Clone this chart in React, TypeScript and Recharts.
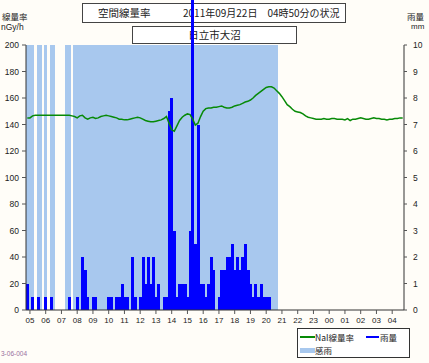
import { ComposedChart, Bar, Line, XAxis, YAxis } from "recharts";

// 10-minute slots, 24 h ending at 04:50 on 2011-09-22
const START_MIN = 4 * 60 + 50;
const SLOT_MIN = 10;

const HOUR_TICKS = [
  "05", "06", "07", "08", "09", "10", "11", "12", "13", "14", "15", "16",
  "17", "18", "19", "20", "21", "22", "23", "00", "01", "02", "03", "04",
];

// NaI dose rate, nGy/h
const NAI_RATE = [
  145, 145, 146.5, 147, 147, 147, 147, 147, 147, 147, 147, 147,
  147, 147, 147, 147, 147, 146.5, 146, 145, 146.5, 147, 145, 144,
  145, 145.5, 144.5, 145, 146, 146.5, 147, 146.5, 146, 145.5, 145, 144,
  144, 143.5, 143.5, 144, 144.5, 145, 145.5, 145, 144, 143, 142.5, 142,
  142, 142.5, 143, 143.5, 144.5, 146, 141, 136, 135, 139, 143, 145.5,
  147, 148, 147.5, 144, 139.5, 141, 146, 150, 152, 152.5, 152.5, 153,
  153, 153.5, 154, 153, 152.5, 152.5, 153, 154, 154.5, 155, 156, 157,
  157.5, 158.5, 160, 162, 163.5, 165, 166.5, 168, 168.5, 168.5, 167.5, 165.5,
  163.5, 161, 158, 155, 153.5, 151.5, 150, 149.5, 149, 148, 146.5, 145.5,
  145, 144.5, 144, 144, 144, 144.5, 144, 144, 144.5, 144.5, 144, 144,
  144, 143.5, 144.5, 143, 144, 144, 144.5, 145, 144.5, 144, 144, 144.5,
  145, 144.5, 144.5, 144, 144, 143.5, 144, 144, 144.5, 144.5, 145, 145,
];

// rainfall per 10 min, mm
const RAIN_MM = [
  1.0, 0, 0.5, 0, 0.5, 0, 0, 0.5, 0, 0.5, 0, 0,
  0, 0, 0, 0, 0.5, 0, 0, 0.5, 0, 2.0, 1.5, 0.5,
  0, 0.5, 0.5, 0, 0, 0, 0, 0.5, 0.5, 0, 0.5, 0.5,
  1.0, 0.5, 0.5, 0, 2.0, 0.5, 0, 0.5, 2.0, 1.0, 2.0, 1.0,
  2.0, 0.5, 1.0, 0, 0.5, 0.5, 7.5, 8.0, 3.0, 0.5, 1.0, 1.0,
  1.0, 0.5, 3.0, 13.0, 2.5, 7.0, 1.0, 1.0, 0.5, 1.0, 2.0, 1.5,
  0, 0.5, 1.5, 1.5, 2.0, 2.0, 2.5, 1.5, 2.0, 1.5, 2.0, 2.5,
  1.5, 1.0, 0.5, 1.0, 0.5, 1.0, 0.5, 0.5, 0.5, 0, 0, 0,
  0, 0, 0, 0, 0, 0, 0, 0, 0, 0, 0, 0,
  0, 0, 0, 0, 0, 0, 0, 0, 0, 0, 0, 0,
  0, 0, 0, 0, 0, 0, 0, 0, 0, 0, 0, 0,
  0, 0, 0, 0, 0, 0, 0, 0, 0, 0, 0, 0,
];

// rain sensor on (1) / off (0)
const RAIN_SENSED = [
  1, 1, 1, 0, 1, 1, 0, 1, 0, 1, 1, 0,
  0, 0, 0, 1, 1, 0, 1, 1, 1, 1, 1, 1,
  1, 1, 1, 1, 1, 1, 1, 1, 1, 1, 1, 1,
  1, 1, 1, 1, 1, 1, 1, 1, 1, 1, 1, 1,
  1, 1, 1, 1, 1, 1, 1, 1, 1, 1, 1, 1,
  1, 1, 1, 1, 1, 1, 1, 1, 1, 1, 1, 1,
  1, 1, 1, 1, 1, 1, 1, 1, 1, 1, 1, 1,
  1, 1, 1, 1, 1, 1, 1, 1, 1, 1, 1, 1,
  0, 0, 0, 0, 0, 0, 0, 0, 0, 0, 0, 0,
  0, 0, 0, 0, 0, 0, 0, 0, 0, 0, 0, 0,
  0, 0, 0, 0, 0, 0, 0, 0, 0, 0, 0, 0,
  0, 0, 0, 0, 0, 0, 0, 0, 0, 0, 0, 0,
];

const RATE_TICKS = [0, 20, 40, 60, 80, 100, 120, 140, 160, 180, 200];
const RAIN_TICKS = [0, 1, 2, 3, 4, 5, 6, 7, 8, 9, 10];
const RAIN_MAX = 10;

const pad = (n: number) => String(n).padStart(2, "0");

const data = NAI_RATE.map((v, i) => {
  const m = (START_MIN + i * SLOT_MIN) % 1440;
  return {
    t: `${pad(Math.floor(m / 60))}:${pad(m % 60)}`,
    nai: v,
    rain: Math.min(RAIN_MM[i], RAIN_MAX),
    rainRaw: RAIN_MM[i],
    sensed: RAIN_SENSED[i],
  };
});

const JP = '"Noto Sans CJK JP", "Liberation Sans", sans-serif';
const BLUE = "#0000ff";
const SENSE = "#a8c8ee";
const GREEN = "#078a07";
const INK = "#222";

// bars over the scale run off the top of the picture
function RainBar(props: any) {
  const { x, y, width, height, payload } = props;
  const over = payload && payload.rainRaw > RAIN_MAX;
  if (!over && !(height > 0)) return null;
  const top = over ? 0 : y;
  return (
    <rect x={x} y={top} width={width} height={y + height - top} fill={BLUE} shapeRendering="crispEdges" />
  );
}

function SenseBar(props: any) {
  const { x, y, width, height } = props;
  if (!(height > 0)) return null;
  return <rect x={x} y={y} width={width} height={height} fill={SENSE} shapeRendering="crispEdges" />;
}

const abs = (left: number, top: number, extra: any = {}) => ({
  position: "absolute" as const,
  left,
  top,
  ...extra,
});

export default function App() {
  const tick = { fontSize: 8.5, fill: INK, fontFamily: "Liberation Sans, sans-serif" };
  return (
    <div style={abs(0, 0, { width: 429, height: 363, background: "#fffdf8", fontFamily: JP, color: INK, overflow: "hidden" })}>
      <div style={abs(82, 3, { width: 262, height: 18, border: "1px solid #444", background: "#fff", fontSize: 10.5, lineHeight: "18px", whiteSpace: "nowrap" })}>
        <span style={abs(15, 0)}>空間線量率</span>
        <span style={abs(100, 0, { fontSize: 10 })}>2011年09月22日　04時50分の状況</span>
      </div>
      <div style={abs(132, 26, { width: 163, height: 16, border: "1px solid #444", background: "#fff", fontSize: 10.5, lineHeight: "16px", textAlign: "center" })}>
        日立市大沼
      </div>
      <div style={abs(2, 11, { fontSize: 8.5, lineHeight: "10px" })}>線量率</div>
      <div style={abs(1, 22, { fontSize: 8.5, lineHeight: "10px", fontFamily: "Liberation Sans, sans-serif" })}>nGy/h</div>
      <div style={abs(407, 11, { fontSize: 8.5, lineHeight: "10px" })}>雨量</div>
      <div style={abs(411, 22, { fontSize: 8, lineHeight: "10px", fontFamily: "Liberation Sans, sans-serif" })}>mm</div>
      <div style={abs(1, 350, { fontSize: 6.5, color: "#9a70a0", fontFamily: "Liberation Sans, sans-serif" })}>3-06-004</div>

      <div style={abs(0, 0, { zIndex: 1 })}>
        <ComposedChart
          width={429}
          height={363}
          data={data}
          margin={{ top: 45, right: 0, bottom: 0, left: 0 }}
          barCategoryGap={0}
          barGap={0}
        >
          <XAxis
            dataKey="t"
            ticks={HOUR_TICKS.map((h) => `${h}:00`)}
            interval={0}
            tickFormatter={(v: string) => v.slice(0, 2)}
            height={53}
            tickSize={4}
            tickMargin={3}
            tick={{ ...tick, fontSize: 8 }}
            tickLine={{ stroke: "#555" }}
            axisLine={{ stroke: "#333" }}
          />
          <XAxis
            xAxisId="bg"
            dataKey="t"
            orientation="top"
            height={0}
            tick={false}
            tickLine={false}
            axisLine={{ stroke: "#333" }}
          />
          <YAxis
            yAxisId="nai"
            width={26}
            domain={[0, 200]}
            ticks={RATE_TICKS}
            interval={0}
            tickSize={4}
            tickMargin={3}
            tick={tick}
            tickLine={{ stroke: "#555" }}
            axisLine={{ stroke: "#333" }}
          />
          <YAxis
            yAxisId="rain"
            orientation="right"
            width={25}
            domain={[0, RAIN_MAX]}
            ticks={RAIN_TICKS}
            interval={0}
            tickSize={3}
            tickMargin={6}
            tick={tick}
            tickLine={{ stroke: "#555" }}
            axisLine={{ stroke: "#333" }}
          />
          <YAxis yAxisId="bgY" hide width={0} orientation="right" domain={[0, 1]} />
          <Bar xAxisId="bg" yAxisId="bgY" dataKey="sensed" fill={SENSE} shape={SenseBar} isAnimationActive={false} />
          <Bar yAxisId="rain" dataKey="rain" fill={BLUE} shape={RainBar} isAnimationActive={false} />
          <Line
            yAxisId="nai"
            dataKey="nai"
            type="linear"
            stroke={GREEN}
            strokeWidth={1.5}
            dot={false}
            activeDot={false}
            isAnimationActive={false}
          />
        </ComposedChart>
      </div>

      <div style={abs(297, 328, { width: 111, height: 28, border: "1px solid #333", background: "#fff", fontSize: 8.5, lineHeight: "10px", zIndex: 2 })}>
        <div style={abs(2, 7, { width: 15, height: 2, background: GREEN })} />
        <span style={abs(17, 3)}>NaI線量率</span>
        <div style={abs(68, 7, { width: 13, height: 2, background: BLUE })} />
        <span style={abs(82, 3)}>雨量</span>
        <div style={abs(2, 19, { width: 15, height: 5, background: SENSE })} />
        <span style={abs(17, 16)}>感雨</span>
      </div>
    </div>
  );
}
